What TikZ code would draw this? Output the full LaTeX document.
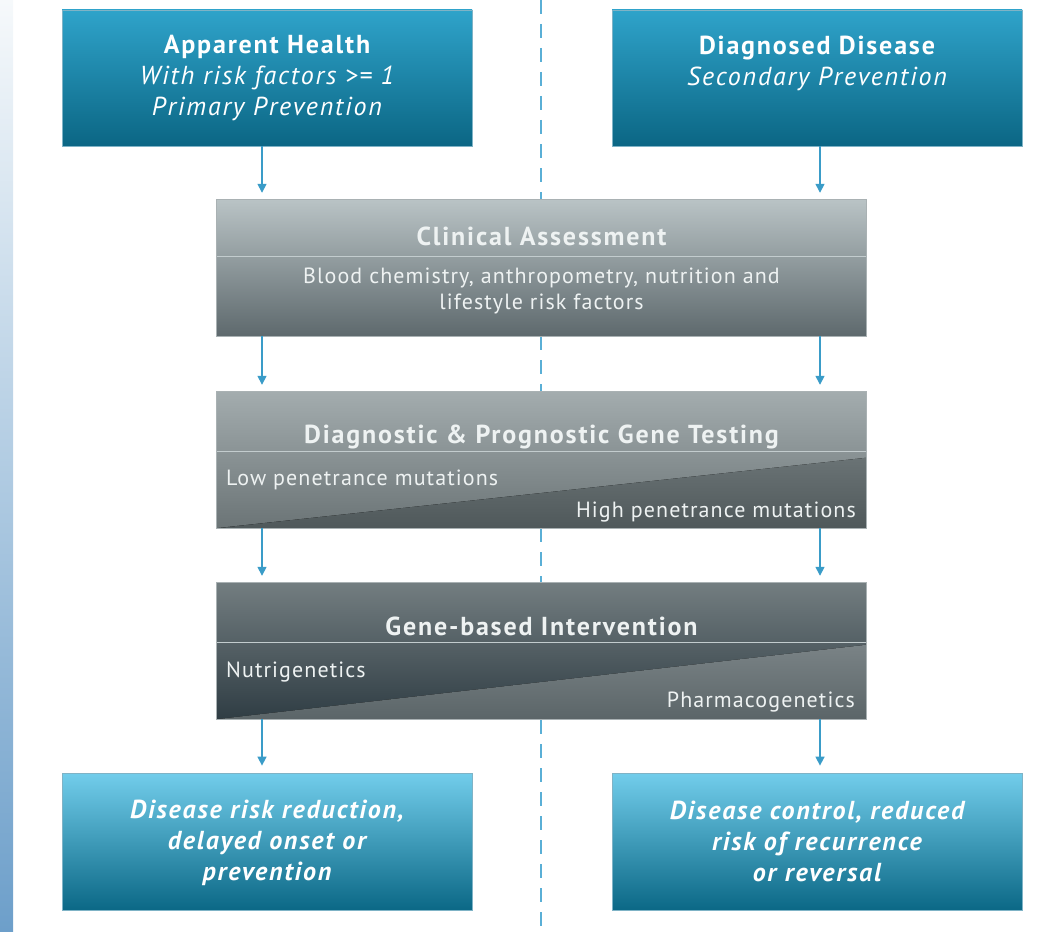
\documentclass[tikz,border=0pt]{standalone}
\usepackage{fontspec}
\setmainfont{PT Sans}[LetterSpace=7]
\newfontfamily\bodyfont{PT Sans}[LetterSpace=5]
\usepackage{xcolor}
\definecolor{flowBlue}  {HTML}{3A9CC8}
\definecolor{dashBlue}  {HTML}{5AAFD6}
\definecolor{capTop}    {HTML}{2FA3CA}
\definecolor{capBot}    {HTML}{0B6684}
\definecolor{endTop}    {HTML}{72CDEB}
\definecolor{endBot}    {HTML}{0B6886}
\definecolor{capEdge}   {HTML}{7FB3C6}
\definecolor{clinTop}   {HTML}{B9C3C5}
\definecolor{clinBot}   {HTML}{5E696D}
\definecolor{diagTop}   {HTML}{A3ACAE}
\definecolor{diagBot}   {HTML}{6B7476}
\definecolor{diagLoTop} {HTML}{6A7375}
\definecolor{diagLoBot} {HTML}{4F585A}
\definecolor{geneTop}   {HTML}{737D80}
\definecolor{geneBot}   {HTML}{2F3D44}
\definecolor{geneLoTop} {HTML}{7A8386}
\definecolor{geneLoBot} {HTML}{5B6568}
\definecolor{stageEdge} {HTML}{A9B1B3}
\definecolor{sepGray}   {HTML}{C3CCCE}
\definecolor{stripTop}  {HTML}{F6F9FB}
\definecolor{stripBot}  {HTML}{6D9FCA}
\definecolor{paleText}  {HTML}{EEF2F2}
\usetikzlibrary{arrows.meta, positioning, calc}
\tikzset{
    flow/.style={-{Triangle[length=9pt, width=9pt]}, line width=1.5pt,
                 flowBlue, shorten >=7pt},
    divider/.style={dashed, dash pattern=on 14pt off 10pt, line width=1.5pt,
                    dashBlue},
    capbox/.style={draw=capEdge, line width=0.8pt, inner sep=0pt,
                   minimum width=410pt, minimum height=136pt,
                   top color=capTop, bottom color=capBot},
    endbox/.style={capbox, minimum height=137pt,
                   top color=endTop, bottom color=endBot},
    stagebox/.style={inner sep=0pt, minimum width=649pt,
                     minimum height=136pt},
    stageedge/.style={draw=stageEdge, line width=0.8pt},
    headline/.style={draw=sepGray, line width=1pt},
}

\begin{document}
\begin{tikzpicture}[
    x=1pt, y=-1pt,
    captxt/.style={white, align=center, inner sep=0pt,
                   font=\fontsize{26}{31}\selectfont},
    endtxt/.style={captxt, font=\fontsize{26}{31}\selectfont\bfseries\itshape},
    headtxt/.style={paleText, inner sep=0pt, anchor=base,
                    font=\fontsize{26}{30}\selectfont\bfseries},
    bodytxt/.style={paleText, align=center, inner sep=0pt,
                    font=\bodyfont\fontsize{22}{26}\selectfont},
    sidetxt/.style={paleText, inner sep=0pt,
                    font=\bodyfont\fontsize{22}{26}\selectfont},
]
\useasboundingbox (0,0) rectangle (1051,931);

% --- side strip and centre divider ---
\fill[top color=stripTop, bottom color=stripBot] (0,0) rectangle (13,931);
\coordinate (divTop) at (541,0);
\coordinate (divBot) at (541,931);
\draw[divider] (divTop) -- (divBot);
\coordinate (laneL) at (262,0);
\coordinate (laneR) at (820,0);

% --- entry boxes ---
\node[capbox] (tl) at (267,78) {};
\node[capbox] (tr) at (817,78) {};
\node[captxt] (tl-t) at (267,78)
    {{\bfseries Apparent Health}\\{\itshape With risk factors >= 1}\\{\itshape Primary Prevention}};
\node[captxt] (tr-t) at (817,63)
    {{\bfseries Diagnosed Disease}\\{\itshape Secondary Prevention}};

% --- stage 1: clinical assessment ---
\node[stagebox, top color=clinTop, bottom color=clinBot] (ca) at (541.5,268) {};
\draw[headline] ($(ca.north west)+(0,57)$) -- ($(ca.north east)+(0,57)$);
\draw[stageedge] (ca.north west) rectangle (ca.south east);
\node[headtxt] (ca-h) at (541.5,245) {Clinical Assessment};
\node[bodytxt] (ca-b) at (541.5,291)
    {Blood chemistry, anthropometry, nutrition and\\lifestyle risk factors};

% --- stage 2: gene testing ---
\node[stagebox, top color=diagTop, bottom color=diagBot] (dg) at (541.5,460) {};
\fill[top color=diagLoTop, bottom color=diagLoBot]
    (dg.south west) -- (dg.south east) -- ($(dg.north east)+(0,66)$) -- cycle;
\draw[headline] ($(dg.north west)+(0,60)$) -- ($(dg.north east)+(0,60)$);
\draw[stageedge] (dg.north west) rectangle (dg.south east);
\node[headtxt] (dg-h) at (541.5,443) {Diagnostic \& Prognostic Gene Testing};
\node[sidetxt, anchor=base west] (dg-lo) at (226,485) {Low penetrance mutations};
\node[sidetxt, anchor=base east] (dg-hi) at (856,517) {High penetrance mutations};

% --- stage 3: intervention ---
\node[stagebox, top color=geneTop, bottom color=geneBot] (gi) at (541.5,651) {};
\fill[top color=geneLoTop, bottom color=geneLoBot]
    (gi.south west) -- (gi.south east) -- ($(gi.north east)+(0,62)$) -- cycle;
\draw[headline] ($(gi.north west)+(0,60)$) -- ($(gi.north east)+(0,60)$);
\draw[stageedge] (gi.north west) rectangle (gi.south east);
\node[headtxt] (gi-h) at (541.5,635) {Gene-based Intervention};
\node[sidetxt, anchor=base west] (gi-nu) at (226,677) {Nutrigenetics};
\node[sidetxt, anchor=base east] (gi-ph) at (855,707) {Pharmacogenetics};

% --- outcome boxes ---
\node[endbox] (bl) at (267,841.5) {};
\node[endbox] (br) at (817,841.5) {};
\node[endtxt] (bl-t) at (267,843)
    {Disease risk reduction,\\delayed onset or\\prevention};
\node[endtxt] (br-t) at (817,841)
    {Disease control, reduced\\risk of recurrence\\or reversal};

% --- flow arrows ---
\draw[flow] (tl.south -| laneL) -- (ca.north -| laneL);
\draw[flow] (tr.south -| laneR) -- (ca.north -| laneR);
\draw[flow] (ca.south -| laneL) -- (dg.north -| laneL);
\draw[flow] (ca.south -| laneR) -- (dg.north -| laneR);
\draw[flow] (dg.south -| laneL) -- (gi.north -| laneL);
\draw[flow] (dg.south -| laneR) -- (gi.north -| laneR);
\draw[flow] (gi.south -| laneL) -- (bl.north -| laneL);
\draw[flow] (gi.south -| laneR) -- (br.north -| laneR);
\end{tikzpicture}
\end{document}
